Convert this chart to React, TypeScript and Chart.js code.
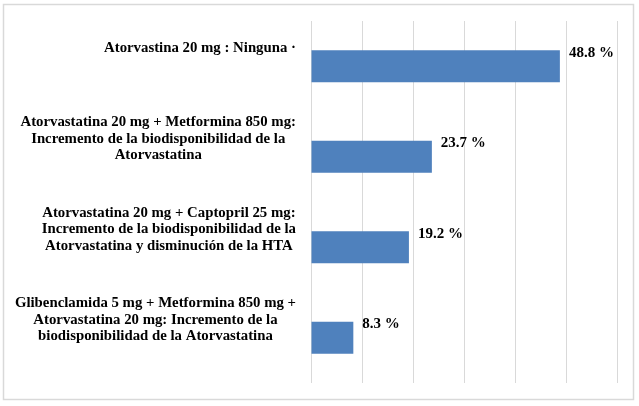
import { useEffect, useRef } from 'react';
import { Chart, registerables } from 'chart.js';

Chart.register(...registerables);

const categories: string[][] = [
  ['Atorvastina 20 mg : Ninguna ·'],
  ['Atorvastatina 20 mg + Metformina 850 mg:', 'Incremento de la biodisponibilidad de la', 'Atorvastatina'],
  ['Atorvastatina 20 mg + Captopril 25 mg:', 'Incremento de la biodisponibilidad de la', 'Atorvastatina y disminución de la HTA'],
  ['Glibenclamida 5 mg + Metformina 850 mg +', 'Atorvastatina 20 mg: Incremento de la', 'biodisponibilidad de la Atorvastatina'],
];
const values: number[] = [48.8, 23.7, 19.2, 8.3];
const xMin = 0;
const xMax = 60;
const xStep = 10;

const FONT_FAMILY = "'Liberation Serif', 'Times New Roman', serif";
const BAR_COLOR = '#4F81BD';
const GRID_COLOR = '#D9D9D9';

const framePlugin = {
  id: 'frame',
  beforeDraw(chart: any) {
    const { ctx, width, height } = chart;
    ctx.save();
    ctx.fillStyle = '#ffffff';
    ctx.fillRect(0, 0, width, height);
    ctx.strokeStyle = GRID_COLOR;
    ctx.lineWidth = 1.5;
    ctx.strokeRect(3.5, 4.5, width - 9, height - 11);
    ctx.restore();
  },
};

const categoryLabelPlugin = {
  id: 'categoryLabels',
  afterDraw(chart: any) {
    const { ctx } = chart;
    const yScale = chart.scales.y;
    const rightEdge = chart.chartArea.left - 15;
    const lineHeight = 16.7;
    ctx.save();
    ctx.font = `bold 14.8px ${FONT_FAMILY}`;
    ctx.fillStyle = '#000000';
    ctx.textAlign = 'center';
    ctx.textBaseline = 'alphabetic';
    categories.forEach((lines, i) => {
      const widest = Math.max(...lines.map((l) => ctx.measureText(l).width));
      const cx = rightEdge - widest / 2;
      const center = yScale.getPixelForValue(i) - 19;
      const first = center - ((lines.length - 1) * lineHeight) / 2 + 5;
      lines.forEach((line, j) => {
        ctx.fillText(line, cx, first + j * lineHeight);
      });
    });
    ctx.restore();
  },
};

const valueLabelPlugin = {
  id: 'valueLabels',
  afterDatasetsDraw(chart: any) {
    const { ctx } = chart;
    const meta = chart.getDatasetMeta(0);
    ctx.save();
    ctx.font = `bold 15px ${FONT_FAMILY}`;
    ctx.fillStyle = '#000000';
    ctx.textAlign = 'left';
    ctx.textBaseline = 'alphabetic';
    meta.data.forEach((bar: any, i: number) => {
      const text = values[i].toFixed(1) + ' %';
      ctx.fillText(text, bar.x + 9, bar.y - 9.5);
    });
    ctx.restore();
  },
};

export default function App() {
  const canvasRef = useRef<HTMLCanvasElement | null>(null);

  useEffect(() => {
    if (!canvasRef.current) return;
    const chart = new Chart(canvasRef.current, {
      type: 'bar',
      data: {
        labels: categories,
        datasets: [
          {
            data: values,
            backgroundColor: BAR_COLOR,
            borderWidth: 0,
            barPercentage: 0.353,
            categoryPercentage: 1,
          },
        ],
      },
      options: {
        indexAxis: 'y',
        responsive: false,
        animation: false,
        devicePixelRatio: 1,
        layout: { padding: { left: 311, right: 22, top: 21, bottom: 23 } },
        plugins: {
          legend: { display: false },
          tooltip: { enabled: false },
          title: { display: false },
        },
        scales: {
          x: {
            min: xMin,
            max: xMax,
            ticks: { display: false, stepSize: xStep },
            grid: { color: GRID_COLOR, lineWidth: 1, drawTicks: false },
            border: { display: false },
          },
          y: {
            ticks: { display: false },
            grid: { display: false, drawTicks: false },
            border: { display: false },
          },
        },
      },
      plugins: [framePlugin, categoryLabelPlugin, valueLabelPlugin],
    });
    return () => chart.destroy();
  }, []);

  return (
    <div style={{ position: 'absolute', left: 0, top: 0, width: 639, height: 406 }}>
      <canvas ref={canvasRef} width={639} height={406} style={{ display: 'block' }} />
    </div>
  );
}
